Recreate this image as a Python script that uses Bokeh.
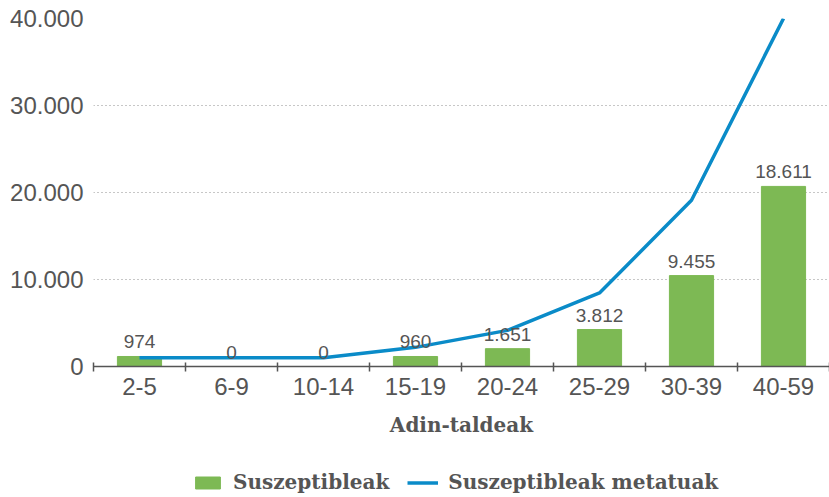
from bokeh.plotting import figure
from bokeh.models import (ColumnDataSource, Range1d, FixedTicker, Legend, LegendItem)
from bokeh.layouts import column
from bokeh.embed import file_html
from bokeh.resources import INLINE
from bokeh.core.properties import value

categories = ["2-5", "6-9", "10-14", "15-19", "20-24", "25-29", "30-39", "40-59"]
bar_values = [1150, 0, 0, 1150, 2050, 4250, 10450, 20700]
bar_labels = ["974", "0", "0", "960", "1.651", "3.812", "9.455", "18.611"]
line_values = [1000, 1000, 1000, 2200, 4150, 8450, 19100, 40000]
y_ticks = [0, 10000, 20000, 30000, 40000]
y_tick_labels = ["0", "10.000", "20.000", "30.000", "40.000"]
series_names = ["Suszeptibleak", "Suszeptibleak metatuak"]

BAR_COLOR = "#7db954"
LINE_COLOR = "#0a8bc8"
TXT = "#555555"

xs = [i + 0.5 for i in range(len(categories))]
src = ColumnDataSource(dict(x=xs, bar=bar_values, lab=bar_labels, line=line_values))

p = figure(width=829, height=450, output_backend="svg", toolbar_location=None,
           x_range=Range1d(0, len(categories)), y_range=Range1d(0, 40000),
           min_border_left=93, min_border_right=0, min_border_top=18,
           min_border_bottom=84)
p.outline_line_color = None
p.background_fill_color = "white"

bars = p.vbar(x="x", top="bar", width=0.48, source=src, color=BAR_COLOR)
ln = p.line(x="x", y="line", source=src, line_color=LINE_COLOR, line_width=3.5)
p.text(x="x", y="bar", text="lab", source=src, text_align="center",
       text_baseline="bottom", y_offset=-8, text_color=TXT,
       text_font=value("Liberation Sans"), text_font_size="19px")

# x axis
xt = FixedTicker(ticks=xs, minor_ticks=list(range(len(categories) + 1)))
p.xaxis.ticker = xt
p.xaxis.major_label_overrides = {x: c for x, c in zip(xs, categories)}
p.xaxis.major_tick_line_color = None
p.xaxis.minor_tick_line_color = "#555555"
p.xaxis.minor_tick_line_width = 1.5
p.xaxis.minor_tick_in = 4
p.xaxis.minor_tick_out = 5
p.xaxis.axis_line_color = "#555555"
p.xaxis.axis_line_width = 1.5
p.xaxis.major_label_text_font = "Liberation Sans"
p.xaxis.major_label_text_font_size = "24px"
p.xaxis.major_label_text_color = TXT
p.xaxis.major_label_standoff = 5
p.xaxis.axis_label = "Adin-taldeak"
p.xaxis.axis_label_text_font = "DejaVu Serif"
p.xaxis.axis_label_text_font_style = "bold"
p.xaxis.axis_label_text_font_size = "20px"
p.xaxis.axis_label_text_color = TXT
p.xaxis.axis_label_standoff = 15

# y axis
p.yaxis.ticker = FixedTicker(ticks=y_ticks)
p.yaxis.major_label_overrides = {t: l for t, l in zip(y_ticks, y_tick_labels)}
p.yaxis.axis_line_color = None
p.yaxis.major_tick_line_color = None
p.yaxis.minor_tick_line_color = None
p.yaxis.major_label_text_font = "Liberation Sans"
p.yaxis.major_label_text_font_size = "24px"
p.yaxis.major_label_text_color = TXT
p.yaxis.major_label_standoff = 4

p.xgrid.grid_line_color = None
p.ygrid.ticker = FixedTicker(ticks=y_ticks[1:])
p.ygrid.grid_line_color = "#8f8f8f"
p.ygrid.grid_line_dash = "1 3"
p.ygrid.grid_line_width = 1.2

# legend strip below the chart (hidden copies of the series supply the swatches)
lf = figure(width=829, height=47, output_backend="svg", toolbar_location=None,
            x_range=Range1d(0, 1), y_range=Range1d(0, 1), min_border=0)
lf.axis.visible = False
lf.grid.visible = False
lf.outline_line_color = None
lb = lf.vbar(x="x", top="bar", width=0.48, source=src, color=BAR_COLOR, visible=False)
ll = lf.line(x="x", y="line", source=src, line_color=LINE_COLOR, line_width=3.5,
             visible=False)
legend = Legend(items=[LegendItem(label=series_names[0], renderers=[lb]),
                       LegendItem(label=series_names[1], renderers=[ll])],
                orientation="horizontal", location=(99, 3),
                label_text_font="DejaVu Serif", label_text_font_style="bold",
                label_text_font_size="20px", label_text_color=TXT,
                glyph_width=31, glyph_height=15, label_standoff=10, spacing=18,
                border_line_color=None, background_fill_alpha=0,
                inactive_fill_alpha=0, padding=0, margin=0)
lf.add_layout(legend, "center")

open("out.html", "w").write(file_html(column(p, lf, spacing=0), INLINE))
